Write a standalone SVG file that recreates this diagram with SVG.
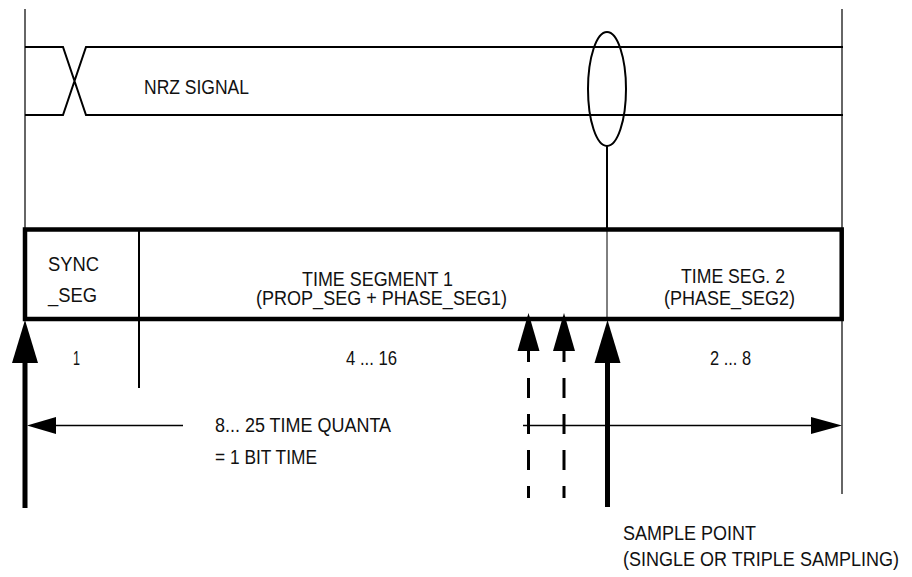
<svg xmlns="http://www.w3.org/2000/svg" width="912" height="577" viewBox="0 0 912 577">
<defs>
<style>
text{font-family:"Liberation Sans",Arial,sans-serif;font-size:20px;fill:#111}
.thin{stroke:#333;stroke-width:1.5;fill:none}
.sig{stroke:#000;stroke-width:2;fill:none}
.box{stroke:#000;stroke-width:4.5;fill:none}
.thick{stroke:#000;stroke-width:5;fill:none}
.dash{stroke:#000;stroke-width:3;stroke-dasharray:20 16;fill:none}
.head{fill:#000;stroke:none}
</style>
</defs>
<rect width="912" height="577" fill="#fff"/>
<g id="frame">
<line class="thin" x1="25" y1="9" x2="25" y2="229"/>
<line class="thin" x1="842" y1="9" x2="842" y2="494"/>
</g>
<g id="nrz-signal">
<path class="sig" d="M25,47 H63 L86,115 H843 M25,115 H63 L86,47 H843"/>
<text x="144" y="94" textLength="105" lengthAdjust="spacingAndGlyphs">NRZ SIGNAL</text>
</g>
<g id="sample-marker">
<ellipse class="sig" cx="607" cy="89" rx="19" ry="57"/>
<line class="sig" x1="607" y1="146" x2="607" y2="229"/>
</g>
<g id="bit-box">
<rect class="box" x="25" y="229.5" width="816.7" height="89.5"/>
<line class="sig" x1="139" y1="229" x2="139" y2="388"/>
<line stroke="#000" stroke-width="1" x1="607" y1="229" x2="607" y2="319"/>
</g>
<g id="sync-seg">
<text x="48" y="271" textLength="51" lengthAdjust="spacingAndGlyphs">SYNC</text>
<text x="48" y="302" textLength="49" lengthAdjust="spacingAndGlyphs">_SEG</text>
<text x="73" y="365" textLength="7" lengthAdjust="spacingAndGlyphs">1</text>
</g>
<g id="time-seg1">
<text x="302" y="286" textLength="151" lengthAdjust="spacingAndGlyphs">TIME SEGMENT 1</text>
<text x="256" y="305" textLength="251" lengthAdjust="spacingAndGlyphs">(PROP_SEG + PHASE_SEG1)</text>
<text x="346" y="365" textLength="51" lengthAdjust="spacingAndGlyphs">4 ... 16</text>
</g>
<g id="time-seg2">
<text x="681" y="283" textLength="104" lengthAdjust="spacingAndGlyphs">TIME SEG. 2</text>
<text x="664" y="305" textLength="131" lengthAdjust="spacingAndGlyphs">(PHASE_SEG2)</text>
<text x="710" y="365" textLength="41" lengthAdjust="spacingAndGlyphs">2 ... 8</text>
</g>
<g id="connectors">
<line class="thick" x1="25" y1="508" x2="25" y2="360"/>
<polygon class="head" points="25,320 12,363 38,363"/>
<line class="thick" x1="607.5" y1="507" x2="607.5" y2="360"/>
<polygon class="head" points="607.5,320 594.5,363 620.5,363"/>
<line class="dash" x1="528.5" y1="342" x2="528.5" y2="498"/>
<polygon class="head" points="528.5,313 517.5,351 539.5,351"/>
<line class="dash" x1="564" y1="342" x2="564" y2="498"/>
<polygon class="head" points="564,313 553,351 575,351"/>
<line stroke="#000" stroke-width="1.5" x1="50" y1="425.5" x2="183" y2="425.5"/>
<polygon class="head" points="27,425.5 56,417 56,434"/>
<line stroke="#000" stroke-width="1.5" x1="523" y1="425.5" x2="815" y2="425.5"/>
<polygon class="head" points="842,425.5 811,417 811,434"/>
</g>
<g id="labels">
<text x="215" y="432" textLength="176" lengthAdjust="spacingAndGlyphs">8... 25 TIME QUANTA</text>
<text x="215" y="464" textLength="102" lengthAdjust="spacingAndGlyphs">= 1 BIT TIME</text>
<text x="623" y="540" textLength="133" lengthAdjust="spacingAndGlyphs">SAMPLE POINT</text>
<text x="623" y="566" textLength="276" lengthAdjust="spacingAndGlyphs">(SINGLE OR TRIPLE SAMPLING)</text>
</g>
</svg>
